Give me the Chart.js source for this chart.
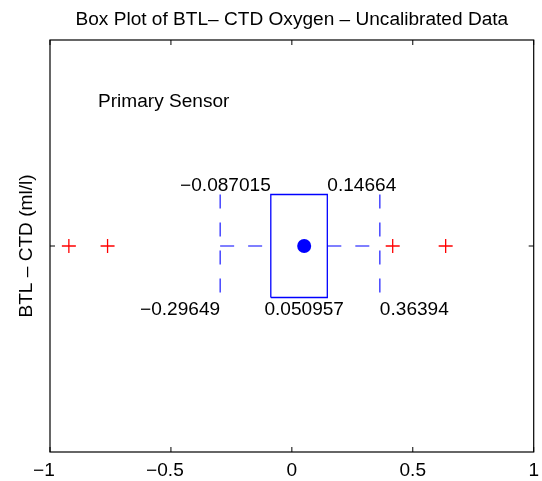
<!DOCTYPE html>
<html>
<head>
<meta charset="utf-8">
<script src="https://cdn.jsdelivr.net/npm/chart.js@4.4.1/dist/chart.umd.min.js"></script>
<style>
  html, body { margin: 0; padding: 0; background: #ffffff; }
  #chart { display: block; }
</style>
</head>
<body>
<canvas id="chart" width="542" height="481"></canvas>
<script>
// Summary statistics of bottle minus CTD oxygen differences (ml/l):
// lower whisker, first quartile, median, third quartile, upper whisker
const statNames = ['lowerWhisker', 'q1', 'median', 'q3', 'upperWhisker'];
const statValues = [-0.29649, -0.087015, 0.050957, 0.14664, 0.36394];

// Points lying beyond the whiskers
const outlierValues = [-0.922, -0.762, 0.417, 0.636];

// Horizontal axis
const xTickValues = [-1, -0.5, 0, 0.5, 1];
const xTickLabels = ['\u22121', '\u22120.5', '0', '0.5', '1'];

// Text
const titleText = 'Box Plot of BTL\u2013 CTD Oxygen \u2013 Uncalibrated Data';
const yAxisTitle = 'BTL \u2013 CTD (ml/l)';
const sensorName = 'Primary Sensor';

const stat = Object.fromEntries(statNames.map((n, i) => [n, statValues[i]]));
const BOX_Y = 1;        // vertical position of the box
const HALF = 0.125;     // half height of the box in y units

const FONT = '"Liberation Sans", Arial, Helvetica, sans-serif';
const FONT_SIZE = 18;
const STRETCH = 1.06;   // slightly widened lettering
const BLUE = '#0000ff';
const RED = '#ff0000';

function fmt(v) {
  return String(v).replace('-', '\u2212');
}

// draw text widened horizontally about its anchor point
function text(ctx, str, x, y, align, rotate) {
  ctx.save();
  ctx.translate(x, y);
  if (rotate) ctx.rotate(rotate);
  ctx.scale(STRETCH, 1);
  ctx.textAlign = align;
  ctx.fillText(str, 0, 0);
  ctx.restore();
}

const datasets = [
  { // box
    data: [
      { x: stat.q1, y: BOX_Y - HALF }, { x: stat.q3, y: BOX_Y - HALF },
      { x: stat.q3, y: BOX_Y + HALF }, { x: stat.q1, y: BOX_Y + HALF },
      { x: stat.q1, y: BOX_Y - HALF }
    ],
    showLine: true, borderColor: BLUE, borderWidth: 1.3, pointRadius: 0
  },
  { // lower whisker stem
    data: [{ x: stat.lowerWhisker, y: BOX_Y }, { x: stat.q1, y: BOX_Y }],
    showLine: true, borderColor: BLUE, borderWidth: 1.1, borderDash: [14, 14], pointRadius: 0
  },
  { // lower whisker cap
    data: [{ x: stat.lowerWhisker, y: BOX_Y + HALF }, { x: stat.lowerWhisker, y: BOX_Y - HALF }],
    showLine: true, borderColor: BLUE, borderWidth: 1.1, borderDash: [14, 14], pointRadius: 0
  },
  { // upper whisker stem
    data: [{ x: stat.q3, y: BOX_Y }, { x: stat.upperWhisker, y: BOX_Y }],
    showLine: true, borderColor: BLUE, borderWidth: 1.1, borderDash: [14, 14], pointRadius: 0
  },
  { // upper whisker cap
    data: [{ x: stat.upperWhisker, y: BOX_Y + HALF }, { x: stat.upperWhisker, y: BOX_Y - HALF }],
    showLine: true, borderColor: BLUE, borderWidth: 1.1, borderDash: [14, 14], pointRadius: 0
  },
  { // median marker
    data: [{ x: stat.median, y: BOX_Y }],
    pointRadius: 7, pointBackgroundColor: BLUE, pointBorderColor: BLUE, pointBorderWidth: 0
  },
  { // outliers
    data: outlierValues.map(v => ({ x: v, y: BOX_Y })),
    pointStyle: 'cross', pointRadius: 7, pointBorderColor: RED, pointBorderWidth: 1.3
  }
];

const decorations = {
  id: 'decorations',
  beforeDraw(chart) {
    const ctx = chart.ctx;
    ctx.save();
    ctx.fillStyle = '#ffffff';
    ctx.fillRect(0, 0, chart.width, chart.height);
    ctx.restore();
  },
  afterDraw(chart) {
    const { ctx, chartArea: a, scales: { x, y } } = chart;
    ctx.save();

    // axes frame
    ctx.strokeStyle = '#000000';
    ctx.lineWidth = 1.2;
    ctx.strokeRect(a.left, a.top, a.right - a.left, a.bottom - a.top);

    // inward tick marks
    const T = 5;
    ctx.lineWidth = 1;
    ctx.beginPath();
    xTickValues.forEach(v => {
      const px = x.getPixelForValue(v);
      ctx.moveTo(px, a.bottom); ctx.lineTo(px, a.bottom - T);
      ctx.moveTo(px, a.top); ctx.lineTo(px, a.top + T);
    });
    const py = y.getPixelForValue(BOX_Y);
    ctx.moveTo(a.left, py); ctx.lineTo(a.left + T, py);
    ctx.moveTo(a.right, py); ctx.lineTo(a.right - T, py);
    ctx.stroke();

    ctx.fillStyle = '#000000';
    ctx.font = FONT_SIZE + 'px ' + FONT;
    ctx.textBaseline = 'alphabetic';

    // tick labels; a leading minus sign hangs to the left of the centred number
    xTickValues.forEach((v, i) => {
      const lbl = xTickLabels[i];
      const shift = lbl.startsWith('\u2212') ? -6 : 0;
      text(ctx, lbl, x.getPixelForValue(v) + shift, 476, 'center');
    });

    // title
    text(ctx, titleText, (a.left + a.right) / 2, 25, 'center');

    // y axis title
    text(ctx, yAxisTitle, 32, (a.top + a.bottom) / 2, 'center', -Math.PI / 2);

    // sensor name
    text(ctx, sensorName, 98, 107, 'left');

    // statistic values beside the box
    const top = y.getPixelForValue(BOX_Y + HALF) - 4;
    const bottom = y.getPixelForValue(BOX_Y - HALF) + 17;
    text(ctx, fmt(stat.q1), x.getPixelForValue(stat.q1), top, 'right');
    text(ctx, fmt(stat.lowerWhisker), x.getPixelForValue(stat.lowerWhisker), bottom, 'right');
    text(ctx, fmt(stat.q3), x.getPixelForValue(stat.q3), top, 'left');
    text(ctx, fmt(stat.upperWhisker), x.getPixelForValue(stat.upperWhisker), bottom, 'left');
    text(ctx, fmt(stat.median), x.getPixelForValue(stat.median), bottom, 'center');

    ctx.restore();
  }
};

new Chart(document.getElementById('chart'), {
  type: 'scatter',
  data: { datasets },
  options: {
    responsive: false,
    animation: false,
    devicePixelRatio: 1,
    layout: { padding: { left: 50, right: 6, top: 40, bottom: 29 } },
    plugins: { legend: { display: false }, tooltip: { enabled: false } },
    scales: {
      x: { type: 'linear', min: -1, max: 1, display: false },
      y: { type: 'linear', min: 0.5, max: 1.5, display: false }
    }
  },
  plugins: [decorations]
});
</script>
</body>
</html>
